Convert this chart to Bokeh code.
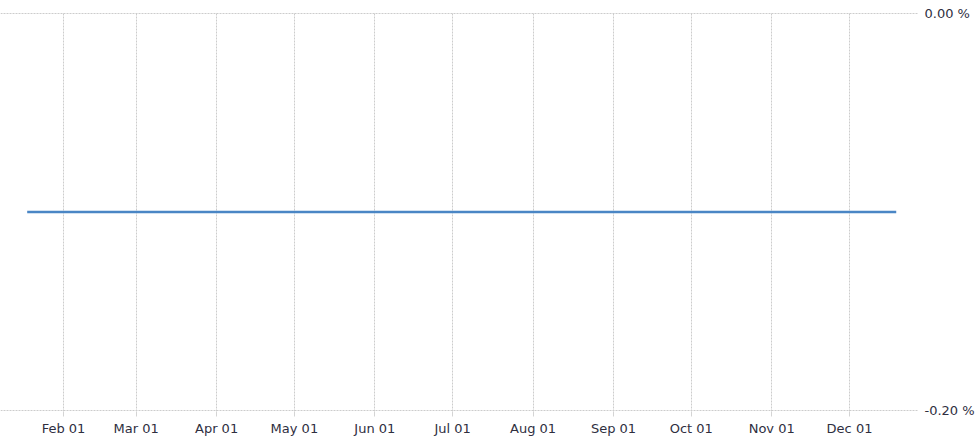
import pandas as pd
from bokeh.plotting import figure
from bokeh.models import (Range1d, FixedTicker, MonthsTicker, DatetimeTickFormatter,
                          PrintfTickFormatter)
from bokeh.embed import file_html
from bokeh.resources import INLINE

# data
dates = ["2023-01-18", "2023-02-01", "2023-03-01", "2023-04-01", "2023-05-01",
         "2023-06-01", "2023-07-01", "2023-08-01", "2023-09-01", "2023-10-01",
         "2023-11-01", "2023-12-01", "2023-12-19"]
values = [-0.10] * len(dates)
y_ticks = [-0.20, 0.00]

x = pd.to_datetime(dates)

p = figure(width=979, height=446, x_axis_type="datetime", y_axis_location="right",
           output_backend="svg", toolbar_location=None,
           x_range=Range1d(pd.Timestamp("2023-01-07 17:00"), pd.Timestamp("2023-12-27 14:00")),
           y_range=Range1d(-0.2005, 0.0005),
           min_border_left=0, min_border_top=12, min_border_bottom=35, min_border_right=61)

p.outline_line_color = None
p.background_fill_color = "white"
p.border_fill_color = "white"

p.line(x, values, line_color="#4a86c5", line_width=2.5)

# x axis
p.xaxis.ticker = MonthsTicker(months=list(range(12)))
p.xaxis.formatter = DatetimeTickFormatter(days="%b %d", months="%b %d", years="%b %d", context=None)
p.xaxis.axis_line_color = None
p.xaxis.major_tick_line_color = "#d4d4d4"
p.xaxis.major_tick_out = 5
p.xaxis.major_tick_in = 0
p.xaxis.minor_tick_line_color = None
p.xaxis.major_label_standoff = 4
p.xaxis.major_label_text_font = "DejaVu Sans"
p.xaxis.major_label_text_font_size = "13px"
p.xaxis.major_label_text_color = "#2f2f3f"

# y axis
p.yaxis.ticker = FixedTicker(ticks=y_ticks)
p.yaxis.formatter = PrintfTickFormatter(format="%.2f %%")
p.yaxis.axis_line_color = None
p.yaxis.major_tick_line_color = None
p.yaxis.minor_tick_line_color = None
p.yaxis.major_label_standoff = 0
p.yaxis.major_label_text_font = "DejaVu Sans"
p.yaxis.major_label_text_font_size = "13px"
p.yaxis.major_label_text_color = "#2f2f3f"

# grids
p.xgrid.grid_line_color = "#cccccc"
p.xgrid.grid_line_dash = "2 1"
p.ygrid.grid_line_color = "#cccccc"
p.ygrid.grid_line_dash = "2 1"

open("out.html", "w").write(file_html(p, INLINE))
